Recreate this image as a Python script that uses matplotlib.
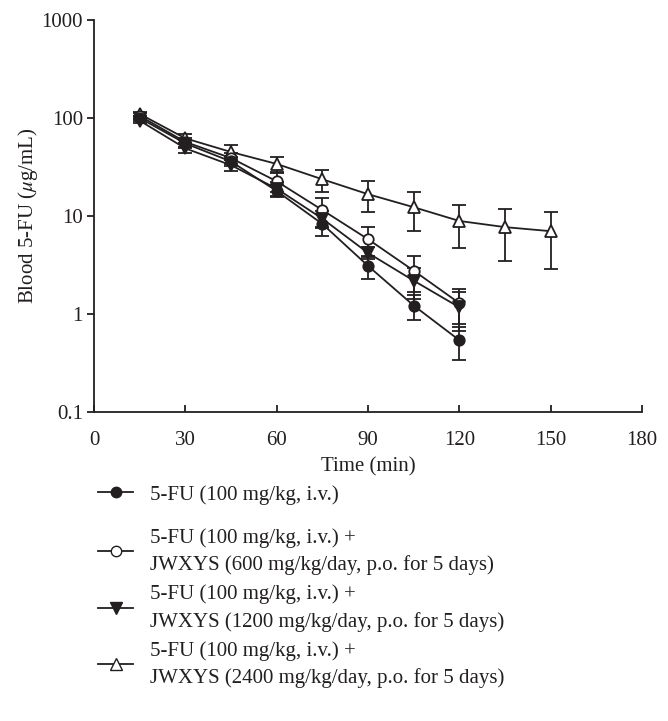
import matplotlib
matplotlib.use("Agg")
import matplotlib.pyplot as plt
from matplotlib.lines import Line2D

plt.rcParams['font.family'] = ['Liberation Serif', 'DejaVu Serif']
plt.rcParams['mathtext.fontset'] = 'stix'

time_a = [15, 30, 45, 60, 75, 90, 105, 120]
time_b = [15, 30, 45, 60, 75, 90, 105, 120, 135, 150]

fu_mean = [100, 55, 36, 18.0, 8.3, 3.1, 1.22, 0.54]
fu_sd = [6, 5, 4, 2.5, 2.1, 0.82, 0.36, 0.2]

j600_mean = [105, 57, 39, 22.6, 11.5, 5.8, 2.77, 1.29]
j600_sd = [8, 6, 5, 5.0, 3.7, 2.0, 1.1, 0.5]

j1200_mean = [94, 49, 33, 19.0, 9.4, 4.2, 2.19, 1.17]
j1200_sd = [6, 5, 4, 3.0, 1.8, 0.6, 0.77, 0.5]

j2400_mean = [110, 62, 45, 34, 23.7, 16.7, 12.3, 8.9, 7.7, 7.0]
j2400_sd = [6, 7, 8, 6, 6, 5.8, 5.2, 4.2, 4.2, 4.1]

labels = [
    "5-FU (100 mg/kg, i.v.)",
    "5-FU (100 mg/kg, i.v.) +\nJWXYS (600 mg/kg/day, p.o. for 5 days)",
    "5-FU (100 mg/kg, i.v.) +\nJWXYS (1200 mg/kg/day, p.o. for 5 days)",
    "5-FU (100 mg/kg, i.v.) +\nJWXYS (2400 mg/kg/day, p.o. for 5 days)",
]

xticks = [0, 30, 60, 90, 120, 150, 180]
yticks = [0.1, 1, 10, 100, 1000]
ytick_labels = ["0.1", "1", "10", "100", "1000"]

C = '#231f20'
FS = 15

fig = plt.figure(figsize=(6.68, 7.21), dpi=100)
ax = fig.add_axes([94/668, 1-412/721, (642-94)/668, (412-20)/721])

series = [
    (time_b, j2400_mean, j2400_sd, '^', 'white', 8.5),
    (time_a, j600_mean, j600_sd, 'o', 'white', 7.5),
    (time_a, j1200_mean, j1200_sd, 'v', C, 8.5),
    (time_a, fu_mean, fu_sd, 'o', C, 7.5),
]
for x, m, s, mk, fc, ms in series:
    ax.errorbar(x, m, yerr=s, color=C, lw=1.3, marker=mk, ms=ms, mfc=fc,
                mec=C, mew=1.3, capsize=5, capthick=1.3, elinewidth=1.3)

ax.set_yscale('log')
ax.set_ylim(0.1, 1000)
ax.set_xlim(0, 180)
ax.set_yticks(yticks)
ax.set_yticklabels(ytick_labels)
ax.minorticks_off()
ax.set_xticks(xticks)
for sp in ['top', 'right']:
    ax.spines[sp].set_visible(False)
for sp in ['left', 'bottom']:
    ax.spines[sp].set_color(C)
    ax.spines[sp].set_linewidth(1.3)
ax.tick_params(axis='x', direction='in', length=5, width=1.3, colors=C,
               labelsize=FS, pad=14)
ax.tick_params(axis='y', direction='out', length=5, width=1.3, colors=C,
               labelsize=FS, pad=3)
ax.set_xlabel("Time (min)", fontsize=FS, color=C, labelpad=5)
ax.set_ylabel(r"Blood 5-FU ($\mu$g/mL)", fontsize=FS, color=C, labelpad=1)

handles = [
    Line2D([], [], color=C, lw=1.3, marker='o', ms=7.5, mfc=C, mec=C),
    Line2D([], [], color=C, lw=1.3, marker='o', ms=7.5, mfc='white', mec=C),
    Line2D([], [], color=C, lw=1.3, marker='v', ms=8.5, mfc=C, mec=C),
    Line2D([], [], color=C, lw=1.3, marker='^', ms=8.5, mfc='white', mec=C),
]
common = dict(loc='upper left', frameon=False, fontsize=FS,
              handlelength=1.7, handletextpad=0.8, borderaxespad=0,
              borderpad=0)
leg1 = fig.legend(handles[:1], labels[:1],
                  bbox_to_anchor=(98/668, 1-485/721), **common)
leg2 = fig.legend(handles[1:], labels[1:],
                  bbox_to_anchor=(98/668, 1-528/721), labelspacing=0.45,
                  **common)
for leg in (leg1, leg2):
    for t in leg.get_texts():
        t.set_color(C)
        t.set_linespacing(1.5)

fig.savefig("out.png", dpi=100)
